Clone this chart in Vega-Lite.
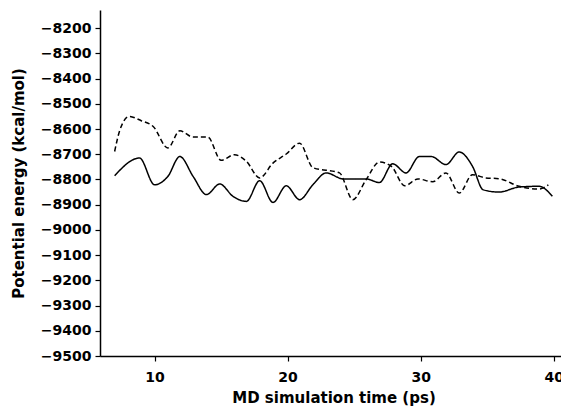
{
  "$schema": "https://vega.github.io/schema/vega-lite/v6.json",
  "width": 467,
  "height": 346,
  "autosize": {"type": "none"},
  "padding": {"left": 100, "top": 10, "right": 0, "bottom": 58},
  "background": "white",
  "config": {
    "view": {"stroke": null},
    "axis": {
      "grid": false,
      "domainColor": "#000",
      "domainWidth": 1.5,
      "tickColor": "#000",
      "tickWidth": 1.2,
      "tickSize": 5,
      "labelFont": "DejaVu Sans",
      "labelFontWeight": "bold",
      "labelFontSize": 14,
      "labelColor": "#000",
      "titleFont": "DejaVu Sans",
      "titleFontWeight": "bold",
      "titleFontSize": 15,
      "titleColor": "#000"
    }
  },
  "data": {
    "values": [
      {"t": 7.0, "E": -8785, "run": "solid"},
      {"t": 8.87, "E": -8715, "run": "solid"},
      {"t": 10.0, "E": -8821, "run": "solid"},
      {"t": 11.0, "E": -8788, "run": "solid"},
      {"t": 11.9, "E": -8709, "run": "solid"},
      {"t": 12.9, "E": -8788, "run": "solid"},
      {"t": 13.9, "E": -8860, "run": "solid"},
      {"t": 14.9, "E": -8818, "run": "solid"},
      {"t": 15.9, "E": -8867, "run": "solid"},
      {"t": 16.9, "E": -8887, "run": "solid"},
      {"t": 17.9, "E": -8805, "run": "solid"},
      {"t": 18.9, "E": -8891, "run": "solid"},
      {"t": 19.9, "E": -8825, "run": "solid"},
      {"t": 20.9, "E": -8880, "run": "solid"},
      {"t": 21.9, "E": -8821, "run": "solid"},
      {"t": 22.9, "E": -8774, "run": "solid"},
      {"t": 24.2, "E": -8798, "run": "solid"},
      {"t": 25.9, "E": -8798, "run": "solid"},
      {"t": 26.9, "E": -8812, "run": "solid"},
      {"t": 27.9, "E": -8738, "run": "solid"},
      {"t": 28.9, "E": -8774, "run": "solid"},
      {"t": 29.9, "E": -8709, "run": "solid"},
      {"t": 30.8, "E": -8709, "run": "solid"},
      {"t": 31.9, "E": -8741, "run": "solid"},
      {"t": 32.9, "E": -8691, "run": "solid"},
      {"t": 33.9, "E": -8748, "run": "solid"},
      {"t": 34.7, "E": -8841, "run": "solid"},
      {"t": 35.9, "E": -8850, "run": "solid"},
      {"t": 37.4, "E": -8830, "run": "solid"},
      {"t": 38.9, "E": -8827, "run": "solid"},
      {"t": 39.9, "E": -8867, "run": "solid"},
      {"t": 7.0, "E": -8689, "run": "dashed"},
      {"t": 7.4, "E": -8603, "run": "dashed"},
      {"t": 8.1, "E": -8550, "run": "dashed"},
      {"t": 9.0, "E": -8567, "run": "dashed"},
      {"t": 9.9, "E": -8590, "run": "dashed"},
      {"t": 11.0, "E": -8675, "run": "dashed"},
      {"t": 11.9, "E": -8607, "run": "dashed"},
      {"t": 12.9, "E": -8632, "run": "dashed"},
      {"t": 14.0, "E": -8632, "run": "dashed"},
      {"t": 15.0, "E": -8724, "run": "dashed"},
      {"t": 16.0, "E": -8702, "run": "dashed"},
      {"t": 16.9, "E": -8728, "run": "dashed"},
      {"t": 17.9, "E": -8794, "run": "dashed"},
      {"t": 18.9, "E": -8735, "run": "dashed"},
      {"t": 19.9, "E": -8699, "run": "dashed"},
      {"t": 20.9, "E": -8656, "run": "dashed"},
      {"t": 21.9, "E": -8753, "run": "dashed"},
      {"t": 23.9, "E": -8774, "run": "dashed"},
      {"t": 24.9, "E": -8880, "run": "dashed"},
      {"t": 25.9, "E": -8801, "run": "dashed"},
      {"t": 26.9, "E": -8731, "run": "dashed"},
      {"t": 27.8, "E": -8748, "run": "dashed"},
      {"t": 28.8, "E": -8825, "run": "dashed"},
      {"t": 29.8, "E": -8798, "run": "dashed"},
      {"t": 30.9, "E": -8809, "run": "dashed"},
      {"t": 31.9, "E": -8774, "run": "dashed"},
      {"t": 32.9, "E": -8854, "run": "dashed"},
      {"t": 33.9, "E": -8781, "run": "dashed"},
      {"t": 34.9, "E": -8794, "run": "dashed"},
      {"t": 35.9, "E": -8797, "run": "dashed"},
      {"t": 37.4, "E": -8827, "run": "dashed"},
      {"t": 38.9, "E": -8838, "run": "dashed"},
      {"t": 39.6, "E": -8821, "run": "dashed"}
    ]
  },
  "mark": {"type": "line", "interpolate": "monotone", "color": "#000", "strokeWidth": 1.5},
  "encoding": {
    "x": {
      "field": "t",
      "type": "quantitative",
      "scale": {"domain": [5.9, 41], "nice": false, "zero": false},
      "axis": {"values": [10, 20, 30, 40], "title": "MD simulation time (ps)", "labelPadding": 9, "titlePadding": 6, "labelFlush": false}
    },
    "y": {
      "field": "E",
      "type": "quantitative",
      "scale": {"domain": [-9500, -8128], "nice": false, "zero": false},
      "axis": {
        "values": [-9500, -9400, -9300, -9200, -9100, -9000, -8900, -8800, -8700, -8600, -8500, -8400, -8300, -8200],
        "format": "d",
        "title": "Potential energy (kcal/mol)",
        "labelPadding": 4,
        "titlePadding": 14
      }
    },
    "detail": {"field": "run"},
    "strokeDash": {
      "field": "run",
      "type": "nominal",
      "scale": {"domain": ["solid", "dashed"], "range": [[1, 0], [5, 3]]},
      "legend": null
    }
  }
}
